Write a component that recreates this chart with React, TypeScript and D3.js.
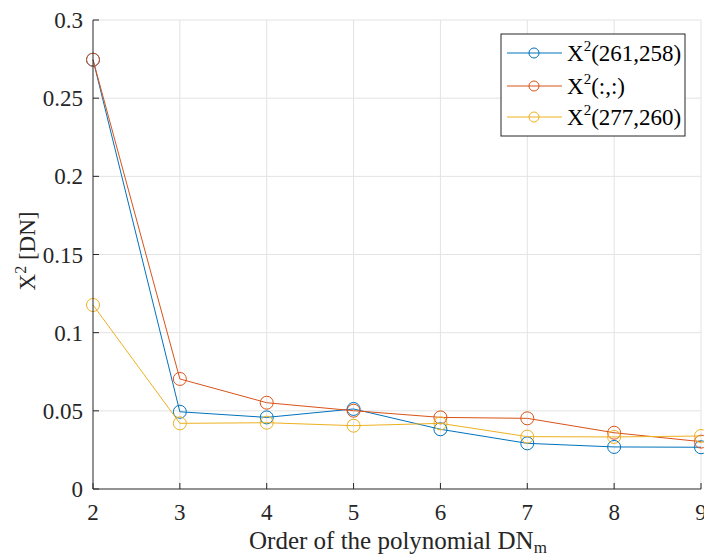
import React from "react";
import * as d3 from "d3";

const orders = [2, 3, 4, 5, 6, 7, 8, 9];
const series261 = [0.2746, 0.0494, 0.0458, 0.0512, 0.0382, 0.0292, 0.0269, 0.0267];
const seriesAll = [0.2746, 0.0704, 0.0552, 0.0501, 0.0458, 0.0452, 0.036, 0.0303];
const series277 = [0.1177, 0.042, 0.0424, 0.0405, 0.042, 0.0335, 0.0333, 0.0339];
const seriesNames = ["(261,258)", "(:,:)", "(277,260)"];
const seriesColors = ["#0072BD", "#D95319", "#EDB120"];
const xTicks = [2, 3, 4, 5, 6, 7, 8, 9];
const yTicks = [0, 0.05, 0.1, 0.15, 0.2, 0.25, 0.3];
const yTickLabels = ["0", "0.05", "0.1", "0.15", "0.2", "0.25", "0.3"];

const W = 704;
const H = 558;
const L = 93, R = 701, T = 20, B = 489;
const FONT = "Liberation Serif, Times New Roman, serif";
const AX = "#262626";
const GRID = "#e3e3e3";

export default function App() {
  const x = d3.scaleLinear().domain([2, 9]).range([L, R]);
  const y = d3.scaleLinear().domain([0, 0.3]).range([B, T]);
  const allSeries = [series261, seriesAll, series277];
  const line = d3
    .line<number>()
    .x((_, i) => x(orders[i]))
    .y((d) => y(d));

  const legX = 501, legY = 34, legW = 184, legH = 102;
  const rowY = [53, 86, 117];

  return (
    <svg
      width={W}
      height={H}
      style={{ position: "absolute", left: 0, top: 0, background: "#fff" }}
    >
      <rect width={W} height={H} fill="#fff" />
      {/* grid */}
      {xTicks.slice(1).map((t) => (
        <line key={"gx" + t} x1={x(t)} x2={x(t)} y1={T} y2={B} stroke={GRID} strokeWidth={1} />
      ))}
      {yTicks.slice(1).map((t) => (
        <line key={"gy" + t} x1={L} x2={R} y1={y(t)} y2={y(t)} stroke={GRID} strokeWidth={1} />
      ))}
      {/* series */}
      {allSeries.map((s, k) => (
        <g key={"s" + k}>
          <path d={line(s) || ""} fill="none" stroke={seriesColors[k]} strokeWidth={1} />
          {s.map((v, i) => (
            <circle key={i} cx={x(orders[i])} cy={y(v)} r={6.5} fill="none" stroke={seriesColors[k]} strokeWidth={1} />
          ))}
        </g>
      ))}
      {/* axes */}
      <line x1={L} x2={L} y1={T} y2={B} stroke={AX} strokeWidth={1} />
      <line x1={L} x2={R} y1={B} y2={B} stroke={AX} strokeWidth={1} />
      {yTicks.map((t, i) => (
        <g key={"yt" + t}>
          <line x1={L} x2={L + 6} y1={y(t)} y2={y(t)} stroke={AX} strokeWidth={1} />
          <text x={L - 10} y={y(t)} dy="0.35em" textAnchor="end" fontSize={23} fill={AX} style={{ fontFamily: FONT }}>
            {yTickLabels[i]}
          </text>
        </g>
      ))}
      {xTicks.map((t) => (
        <g key={"xt" + t}>
          <line x1={x(t)} x2={x(t)} y1={B} y2={B - 6} stroke={AX} strokeWidth={1} />
          <text x={x(t)} y={520} textAnchor="middle" fontSize={23} fill={AX} style={{ fontFamily: FONT }}>
            {t}
          </text>
        </g>
      ))}
      {/* axis labels */}
      <text x={249} y={549} fontSize={25} fill={AX} style={{ fontFamily: FONT }}>
        Order of the polynomial DN
        <tspan fontSize={17} dy={4}>m</tspan>
      </text>
      <text
        transform={`translate(35,251) rotate(-90)`}
        textAnchor="middle"
        fontSize={23}
        fill={AX}
        style={{ fontFamily: FONT }}
      >
        X<tspan fontSize={16} dy={-9}>2</tspan>
        <tspan dy={9}> [DN]</tspan>
      </text>
      {/* legend */}
      <rect x={legX} y={legY} width={legW} height={legH} fill="#fff" stroke={AX} strokeWidth={1} />
      {seriesNames.map((n, k) => (
        <g key={"lg" + k}>
          <line x1={507} x2={562} y1={rowY[k]} y2={rowY[k]} stroke={seriesColors[k]} strokeWidth={1} />
          <circle cx={534} cy={rowY[k]} r={5} fill="none" stroke={seriesColors[k]} strokeWidth={1} />
          <text x={567} y={rowY[k]} dy="0.35em" fontSize={23} fill="#000" style={{ fontFamily: FONT }}>
            X<tspan fontSize={15} dy={-10}>2</tspan>
            <tspan dy={10}>{n}</tspan>
          </text>
        </g>
      ))}
    </svg>
  );
}
